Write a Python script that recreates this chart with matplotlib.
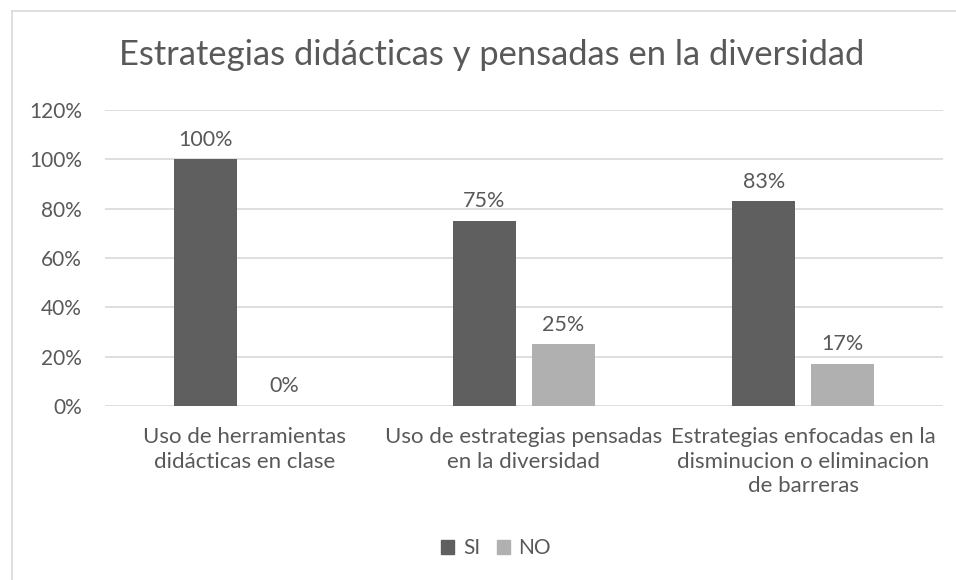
import matplotlib
matplotlib.use("Agg")
import matplotlib.pyplot as plt
from matplotlib.lines import Line2D
from matplotlib.patches import Patch
import numpy as np

categories = ["Uso de herramientas\ndidácticas en clase",
              "Uso de estrategias pensadas\nen la diversidad",
              "Estrategias enfocadas en la\ndisminucion o eliminacion\nde barreras"]
si_values = [1.00, 0.75, 0.83]
no_values = [0.00, 0.25, 0.17]
series_names = ["SI", "NO"]
yticks = [0, 0.2, 0.4, 0.6, 0.8, 1.0, 1.2]
ytick_labels = ["0%", "20%", "40%", "60%", "80%", "100%", "120%"]
title = "Estrategias didácticas y pensadas en la diversidad"

TXT = "#595959"
C_SI = "#5f5f5f"
C_NO = "#b0b0b0"
GRID = "#d9d9d9"
FONT = ["Lato", "DejaVu Sans"]
plt.rcParams["font.family"] = FONT

W, H = 956, 580
fig = plt.figure(figsize=(W / 100, H / 100), dpi=100)

def fx(px):
    return px / W

def fy(py):
    return 1 - py / H

# chart border (left and top edges visible)
fig.add_artist(Line2D([fx(12), fx(12)], [fy(11), fy(600)], color=GRID, lw=1.2, transform=fig.transFigure))
fig.add_artist(Line2D([fx(12), fx(960)], [fy(11), fy(11)], color=GRID, lw=1.2, transform=fig.transFigure))

ax = fig.add_axes([fx(105), fy(406), fx(943) - fx(105), fy(110) - fy(406)])
ax.set_ylim(0, 1.2)
ax.set_xlim(-0.5, 2.5)
x = np.arange(len(categories))
off = 0.1416
bw = 0.226
b1 = ax.bar(x - off, si_values, bw, color=C_SI, zorder=3)
b2 = ax.bar(x + off, no_values, bw, color=C_NO, zorder=3)

for bars, vals in ((b1, si_values), (b2, no_values)):
    for rect, v in zip(bars, vals):
        ax.annotate(f"{round(v*100)}%", (rect.get_x() + rect.get_width() / 2, v),
                    xytext=(0, 7), textcoords="offset points", ha="center", va="bottom",
                    fontsize=15.5, color=TXT)

ax.set_yticks(yticks)
ax.set_yticklabels(ytick_labels)
ax.set_xticks(x)
ax.set_xticklabels(categories, linespacing=1.3)
ax.tick_params(axis="both", length=0, labelcolor=TXT)
ax.tick_params(axis="y", pad=16.5, labelsize=15)
ax.tick_params(axis="x", pad=15, labelsize=16)
ax.yaxis.grid(True, color=GRID, lw=1.2, zorder=0)
ax.set_axisbelow(True)
for s in ax.spines.values():
    s.set_visible(False)

fig.text(fx(492), fy(55), title, ha="center", va="center", fontsize=24.8, color=TXT)

handles = [Patch(color=C_SI), Patch(color=C_NO)]
fig.legend(handles, series_names, loc="center", bbox_to_anchor=(fx(496), fy(548)),
           ncol=2, frameon=False, fontsize=15, labelcolor=TXT, handlelength=0.65,
           handleheight=0.65, handletextpad=0.4, columnspacing=0.8)

fig.savefig("out.png", dpi=100, facecolor="white")
